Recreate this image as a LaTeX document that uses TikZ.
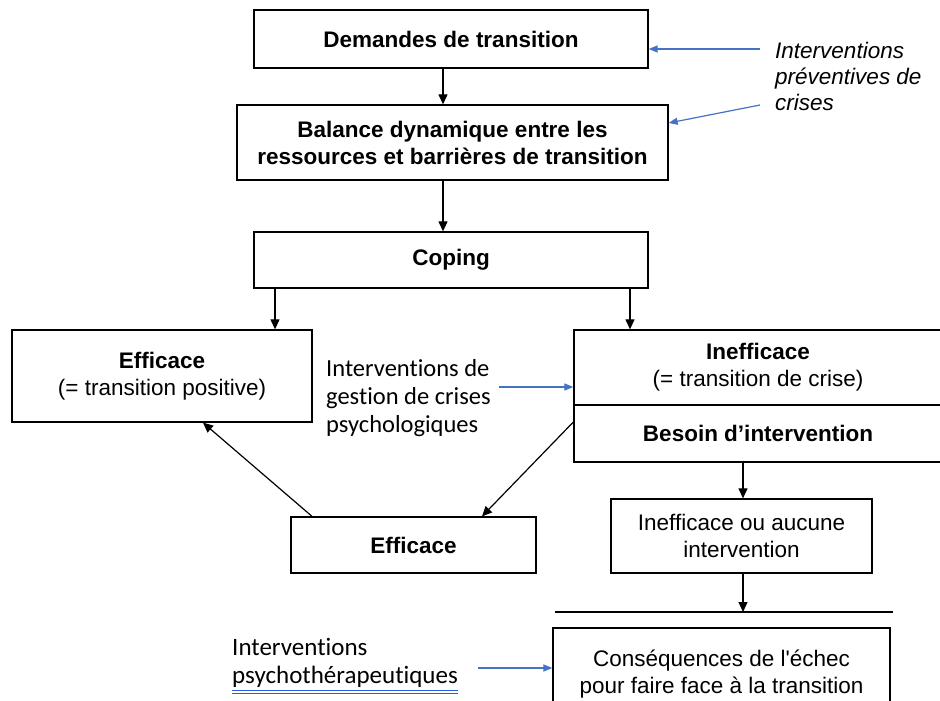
\documentclass[tikz,border=0pt]{standalone}
\usepackage{fontspec}
\setmainfont{Liberation Sans}[Ligatures = TeXOff]
\newfontfamily\calibri{Carlito}[Ligatures = {TeXOff, NoCommon}]
\usetikzlibrary{arrows.meta}
\definecolor{hintblue}{RGB}{68,114,196}
\definecolor{spellblue}{RGB}{40,90,230}
\newlength\spellwd
\newcommand\spellmark[1]{\settowidth\spellwd{#1}#1\llap{\textcolor{spellblue}{\rule[-8pt]{\spellwd}{1pt}\hspace{-\spellwd}\rule[-11pt]{\spellwd}{1pt}}}}

\begin{document}
\begin{tikzpicture}[x = 1pt, y = -1pt,
    every node/.style = {font = \fontsize{22.5}{27}\selectfont, inner sep = 0pt, align = center},
    box/.style = {draw, line width = 1.3pt},
    bold/.style = {font = \fontsize{22.5}{27}\selectfont\bfseries},
    aside/.style = {font = \calibri\fontsize{24.5}{28}\selectfont, align = left, anchor = west},
    link/.style = {line width = 1.2pt, -{Triangle[length = 10pt, width = 9pt]}},
    hint/.style = {hintblue, line width = 1.2pt, -{Triangle[length = 9pt, width = 7pt]}}]
    \clip (0,0) rectangle (940,701);
    % main column
    \node[box, bold, minimum width = 394pt, minimum height = 58pt] (dem) at (451,39) {Demandes de transition};
    \node[box, bold, minimum width = 431pt, minimum height = 75pt] (bal) at (452.5,142.5)
        {Balance dynamique entre les\\ressources et barrières de transition};
    \node[box, bold, minimum width = 394pt, minimum height = 56pt] (cop) at (451,260) {Coping};
    \node[box, minimum width = 300pt, minimum height = 92pt] (eff) at (162,376)
        {\textbf{Efficace}\\(= transition positive)};
    \node[box, minimum width = 368pt, minimum height = 75pt] (inef) at (758,367.5)
        {\textbf{Inefficace}\\(= transition de crise)};
    \node[box, bold, minimum width = 368pt, minimum height = 57pt] (bes) at (758,433.5) {Besoin d’intervention};
    \node[box, bold, minimum width = 245pt, minimum height = 56pt] (eff2) at (413.5,545) {Efficace};
    \node[box, minimum width = 261pt, minimum height = 74pt] (iou) at (741.5,536) {Inefficace ou aucune\\intervention};
    \coordinate (cut l) at (555,612);
    \coordinate (cut r) at (893,612);
    \node[box, minimum width = 337pt, minimum height = 92pt] (cons) at (721.5,674)
        {Conséquences de l'échec\\pour faire face à la transition};
    % interventions
    \node[anchor = west, align = left, font = \fontsize{22.5}{26}\selectfont\itshape] (prev) at (775,76)
        {Interventions\\préventives de\\crises};
    \node[aside] (gest) at (326,398) {Interventions de\\gestion de crises\\psychologiques};
    \node[aside, font = \calibri\fontsize{25}{28}\selectfont] (psy) at (232,666)
        {Interventions\\\spellmark{psychothérapeutiques}};
    % connectors
    \draw[link] ([xshift = -8pt]dem.south) -- ([xshift = -9.5pt]bal.north);
    \draw[link] ([xshift = -9.5pt]bal.south) -- ([xshift = -8pt]cop.north);
    \draw[link] ([xshift = -176pt]cop.south) -- ([xshift = 113pt]eff.north);
    \draw[link] ([xshift = 179pt]cop.south) -- ([xshift = -128pt]inef.north);
    \draw[link] ([yshift = 11.5pt]bes.west) -- ([xshift = 68.5pt]eff2.north);
    \draw[link] ([xshift = -101.5pt]eff2.north) -- ([xshift = 41pt]eff.south);
    \draw[link] ([xshift = -15pt]bes.south) -- ([xshift = 1.5pt]iou.north);
    \draw[link] ([xshift = 1.5pt]iou.south) -- ([xshift = 1.5pt]iou.south |- cut l);
    \draw[line width = 1.3pt] (cut l) -- (cut r);
    \draw[hint] ([xshift = -15pt, yshift = 27pt]prev.west) -- ([yshift = 27pt]prev.west -| dem.east);
    \draw[hint] ([xshift = -15pt, yshift = -29pt]prev.west) -- ([yshift = 19.5pt]bal.east);
    \draw[hint] ([xshift = 8pt, yshift = 11pt]gest.east) -- ([yshift = 11pt]gest.east -| inef.west);
    \draw[hint] ([xshift = 20pt, yshift = -2pt]psy.east) -- ([yshift = -2pt]psy.east -| cons.west);
\end{tikzpicture}
\end{document}
